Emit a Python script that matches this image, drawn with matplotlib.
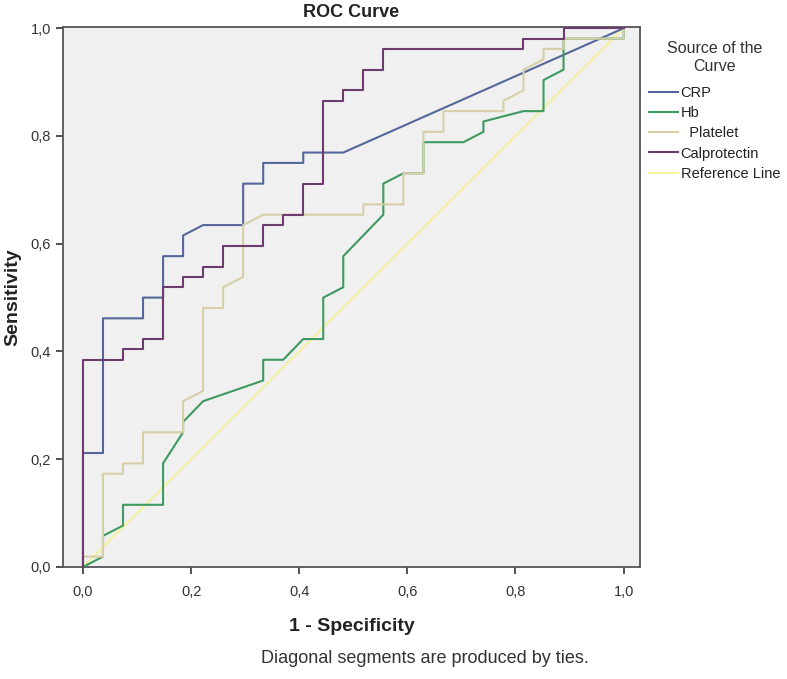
import matplotlib
matplotlib.use("Agg")
import numpy as np
import matplotlib.pyplot as plt
from matplotlib.ticker import FuncFormatter

plt.rcParams['font.family'] = ['Liberation Sans', 'DejaVu Sans']

# ROC step points, as counts of negatives (27) / positives (52)
n_neg = 27
n_pos = 52

crp_fp = [0, 0, 1, 1, 3, 3, 4, 4, 5, 5, 6, 8, 8, 9, 9, 11, 11, 13, 27]
crp_tp = [0, 11, 11, 24, 24, 26, 26, 30, 30, 32, 33, 33, 37, 37, 39, 39, 40, 40, 52]

hb_fp = [0, 1, 1, 2, 2, 4, 4, 5, 5, 6, 9, 9, 10, 11, 12, 12, 13, 13, 15, 15,
         16, 17, 17, 19, 20, 20, 22, 23, 23, 24, 24, 27, 27]
hb_tp = [0, 1, 3, 4, 6, 6, 10, 13, 14, 16, 18, 20, 20, 22, 22, 26, 27, 30, 34, 37,
         38, 38, 41, 41, 42, 43, 44, 44, 47, 48, 51, 51, 52]

plt_fp = [0, 0, 1, 1, 2, 2, 3, 3, 5, 5, 6, 6, 7, 7, 8, 8, 9, 14, 14, 16, 16,
          17, 17, 18, 18, 21, 21, 22, 22, 23, 23, 24, 24, 27, 27]
plt_tp = [0, 1, 1, 9, 9, 10, 10, 13, 13, 16, 17, 25, 25, 27, 28, 33, 34, 34, 35, 35, 38,
          38, 42, 42, 44, 44, 45, 46, 48, 49, 50, 50, 51, 51, 52]

calp_fp = [0, 0, 2, 2, 3, 3, 4, 4, 5, 5, 6, 6, 7, 7, 9, 9, 10, 10, 11, 11, 12, 12,
           13, 13, 14, 14, 15, 15, 22, 22, 24, 24, 27]
calp_tp = [0, 20, 20, 21, 21, 22, 22, 27, 27, 28, 28, 29, 29, 31, 31, 33, 33, 34, 34, 37, 37, 45,
           45, 46, 46, 48, 48, 50, 50, 51, 51, 52, 52]

ref_x = [0, 1]
ref_y = [0, 1]

series = [
    ("CRP", crp_fp, crp_tp, "#55679a"),
    ("Hb", hb_fp, hb_tp, "#3e9a60"),
    ("  Platelet", plt_fp, plt_tp, "#d6cfa8"),
    ("Calprotectin", calp_fp, calp_tp, "#6b3c6d"),
]

fig = plt.figure(figsize=(7.87, 6.79), dpi=100)
ax = fig.add_axes([0.080, 0.165, 0.733, 0.795])
ax.set_facecolor("#f0f0f0")

handles = []
for name, fp, tp, col in series:
    x = np.array(fp) / n_neg
    y = np.array(tp) / n_pos
    h, = ax.plot(x, y, color=col, lw=1.5, label=name, zorder=3)
    handles.append(h)
h, = ax.plot(ref_x, ref_y, color="#f5f2a0", lw=1.5, label="Reference Line", zorder=2)
handles.append(h)

ax.set_xlim(-0.037, 1.03)
ax.set_ylim(0, 1.002)
ticks = [0, 0.2, 0.4, 0.6, 0.8, 1.0]
ax.set_xticks(ticks)
ax.set_yticks(ticks)
fmt = FuncFormatter(lambda v, p: f"{v:.1f}".replace(".", ","))
ax.xaxis.set_major_formatter(fmt)
ax.yaxis.set_major_formatter(fmt)
ax.tick_params(direction="out", length=5, width=1.2, colors="#333333",
               labelsize=10.5, labelcolor="#333333")
ax.tick_params(axis="x", pad=8)
for s in ax.spines.values():
    s.set_color("#555555")
    s.set_linewidth(1.3)

ax.set_title("ROC Curve", fontsize=13, fontweight="bold", color="#222222", pad=7)
ax.set_xlabel("1 - Specificity", fontsize=14, fontweight="bold", color="#222222", labelpad=14)
fig.text(0.016, 0.5625, "Sensitivity", rotation=90, ha="center", va="center",
         fontsize=14, fontweight="bold", color="#222222")

fig.text(0.54, 0.018, "Diagonal segments are produced by ties.", ha="center", va="bottom",
         fontsize=13, color="#333333")

leg = ax.legend(handles=handles, title="Source of the\nCurve", loc="upper left",
                bbox_to_anchor=(1.0, 0.99), frameon=False, fontsize=10.5,
                title_fontsize=11.5, handlelength=2.0, handletextpad=0.2,
                labelspacing=0.42, borderaxespad=0.2)
leg.get_title().set_color("#333333")
leg.get_title().set_multialignment("center")
leg._legend_box.align = "center"
leg._legend_box.sep = 9
for t in leg.get_texts():
    t.set_color("#222222")

fig.savefig("out.png", dpi=100)
